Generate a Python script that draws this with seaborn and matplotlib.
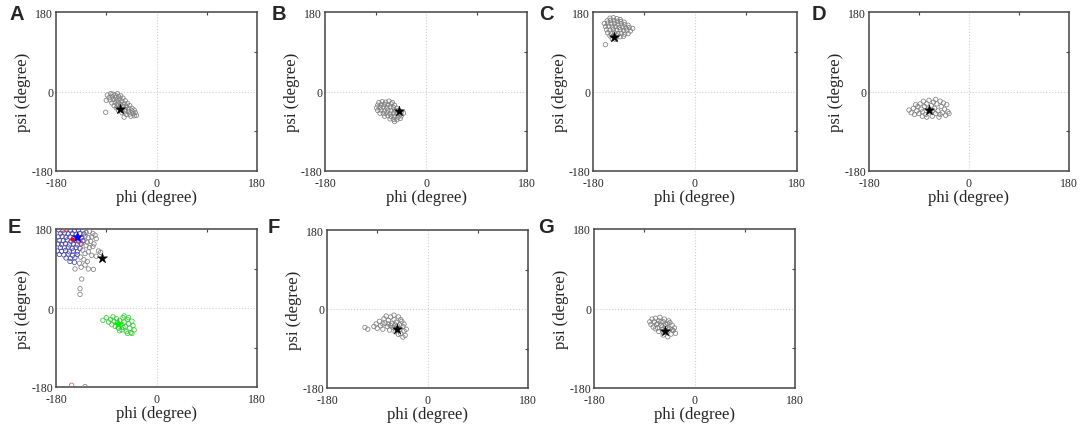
import matplotlib
matplotlib.use("Agg")
import matplotlib.pyplot as plt
import seaborn as sns

# (phi, psi) points, in degrees
A_POINTS = [(-88, -8), (-82, -5), (-78, -6), (-74, -8), (-70, -5), (-85, -14), (-79, -12), (-73, -13),
            (-68, -11), (-64, -10), (-90, -20), (-83, -19), (-77, -18), (-71, -20), (-66, -17), (-60, -15),
            (-80, -26), (-74, -25), (-68, -24), (-62, -22), (-56, -21), (-76, -32), (-70, -30), (-64, -29),
            (-58, -28), (-52, -27), (-72, -37), (-66, -36), (-60, -34), (-54, -33), (-48, -32), (-68, -43),
            (-62, -42), (-56, -40), (-50, -39), (-44, -38), (-62, -48), (-56, -46), (-50, -45), (-44, -44),
            (-40, -42), (-54, -52), (-48, -51), (-42, -50), (-38, -48), (-46, -56), (-40, -55), (-91, -47),
            (-58, -58), (-36, -54)]
A_STAR = (-65, -39)

B_POINTS = [(-84, -25), (-78, -23), (-72, -24), (-66, -22), (-60, -25), (-86, -31), (-80, -30), (-74, -29),
            (-68, -30), (-62, -28), (-56, -31), (-88, -37), (-82, -36), (-76, -35), (-70, -37), (-64, -35),
            (-58, -36), (-52, -38), (-86, -43), (-80, -42), (-74, -44), (-68, -42), (-62, -44), (-56, -42),
            (-50, -44), (-44, -46), (-82, -49), (-76, -50), (-70, -48), (-64, -51), (-58, -49), (-52, -51),
            (-46, -50), (-40, -49), (-74, -56), (-68, -55), (-62, -57), (-56, -56), (-50, -58), (-44, -55),
            (-64, -62), (-58, -63), (-52, -64), (-46, -61), (-56, -68)]
B_STAR = (-48, -45)

C_POINTS = [(-150, 166), (-144, 167), (-138, 165), (-132, 163), (-155, 160), (-149, 161), (-143, 160),
            (-137, 159), (-131, 158), (-125, 157), (-160, 154), (-154, 155), (-148, 153), (-142, 154),
            (-136, 152), (-130, 153), (-124, 151), (-118, 150), (-158, 147), (-152, 148), (-146, 146),
            (-140, 147), (-134, 145), (-128, 146), (-122, 144), (-116, 145), (-110, 143), (-156, 140),
            (-150, 139), (-144, 141), (-138, 139), (-132, 140), (-126, 138), (-120, 139), (-114, 137),
            (-154, 133), (-148, 132), (-142, 133), (-136, 131), (-130, 132), (-124, 130), (-118, 131),
            (-150, 126), (-144, 125), (-138, 126), (-132, 124), (-126, 125), (-146, 119), (-140, 118),
            (-158, 106)]
C_STAR = (-143, 124)

D_POINTS = [(-108, -42), (-104, -48), (-100, -38), (-98, -52), (-94, -44), (-92, -34), (-90, -50), (-88, -28),
            (-86, -40), (-84, -46), (-82, -22), (-80, -34), (-78, -52), (-76, -28), (-74, -40), (-72, -20),
            (-70, -46), (-68, -32), (-66, -56), (-64, -24), (-62, -38), (-60, -50), (-58, -28), (-56, -44),
            (-54, -58), (-52, -22), (-50, -34), (-48, -48), (-46, -26), (-44, -40), (-42, -54), (-40, -30),
            (-38, -46), (-36, -50), (-84, -56), (-96, -30), (-60, -18), (-66, -44), (-76, -58), (-52, -52)]
D_STAR = (-72, -43)

E_GREY = [(-132, 176), (-126, 172), (-120, 174), (-114, 170), (-110, 166), (-128, 164), (-122, 160),
          (-116, 162), (-108, 158), (-130, 154), (-124, 150), (-118, 152), (-112, 146), (-126, 142),
          (-120, 138), (-114, 140), (-104, 130), (-100, 127), (-132, 132), (-128, 124), (-122, 128),
          (-116, 120), (-108, 118), (-136, 116), (-130, 110), (-124, 106), (-138, 102), (-128, 98),
          (-146, 89), (-135, 93), (-122, 89), (-113, 88), (-134, 66), (-137, 44), (-137, 31), (-128, -179)]
E_BLUE = [(-175, 178), (-168, 176), (-161, 178), (-154, 177), (-147, 176), (-140, 178), (-172, 170),
          (-165, 171), (-158, 169), (-151, 170), (-144, 168), (-137, 170), (-130, 169), (-176, 162),
          (-169, 163), (-162, 161), (-155, 162), (-148, 160), (-141, 162), (-134, 160), (-174, 154),
          (-167, 153), (-160, 155), (-153, 152), (-146, 154), (-139, 152), (-132, 153), (-176, 146),
          (-170, 145), (-163, 147), (-156, 144), (-149, 146), (-142, 144), (-135, 146), (-172, 138),
          (-165, 137), (-158, 139), (-151, 136), (-144, 138), (-137, 136), (-178, 130), (-170, 129),
          (-163, 131), (-156, 128), (-149, 130), (-142, 128), (-174, 122), (-166, 121), (-158, 123),
          (-150, 120), (-142, 122), (-162, 114), (-154, 113), (-146, 115), (-155, 106), (-147, 104)]
E_RED = [(-168, 178), (-162, 180), (-140, 160), (-136, 148), (-152, -176)]
E_RED_DOT = (-152, 158)
E_GREEN = [(-96, -28), (-90, -22), (-86, -32), (-82, -26), (-80, -38), (-78, -20), (-76, -30), (-74, -42),
           (-72, -24), (-70, -34), (-68, -46), (-66, -28), (-64, -38), (-62, -50), (-60, -22), (-58, -32),
           (-56, -42), (-54, -54), (-52, -26), (-50, -36), (-48, -46), (-46, -56), (-44, -30), (-42, -40),
           (-40, -50), (-44, -58), (-52, -58), (-60, -44), (-66, -52), (-58, -18), (-50, -22)]
E_STAR_BLACK = (-97, 114)
E_STAR_BLUE = (-143, 161)
E_STAR_GREEN = (-69, -36)

F_POINTS = [(-112, -42), (-107, -46), (-96, -40), (-92, -34), (-90, -44), (-86, -28), (-84, -38), (-80, -46),
            (-78, -22), (-76, -32), (-74, -16), (-72, -40), (-70, -26), (-68, -48), (-66, -18), (-64, -34),
            (-62, -42), (-60, -24), (-58, -52), (-56, -30), (-54, -38), (-52, -18), (-50, -46), (-48, -56),
            (-46, -28), (-44, -40), (-42, -50), (-40, -60), (-44, -64), (-50, -36), (-56, -44), (-60, -14),
            (-66, -38), (-48, -24), (-42, -34), (-38, -46), (-52, -58), (-70, -34), (-80, -34), (-58, -36)]
F_STAR = (-54, -45)

G_POINTS = [(-80, -30), (-78, -36), (-76, -24), (-74, -42), (-72, -30), (-70, -22), (-68, -36), (-66, -44),
            (-64, -28), (-62, -20), (-60, -38), (-58, -48), (-56, -30), (-54, -24), (-52, -42), (-50, -54),
            (-48, -34), (-46, -28), (-44, -46), (-42, -58), (-40, -38), (-38, -50), (-36, -44), (-34, -56),
            (-64, -52), (-56, -60), (-48, -64), (-70, -46), (-60, -30), (-52, -36), (-44, -32), (-40, -48),
            (-58, -42), (-66, -34), (-48, -44), (-56, -54)]
G_STAR = (-53, -50)

PANEL_LABELS = ["A", "B", "C", "D", "E", "F", "G"]
TICKS = [-180, 0, 180]

W, H = 1084, 427
# axes boxes in pixels: left, top, right, bottom
BOXES = {
    "A": (56, 13, 257, 172), "B": (325, 13, 527, 172), "C": (593, 13, 797, 172), "D": (869, 13, 1069, 172),
    "E": (56, 230, 257, 388), "F": (327, 231, 528, 389), "G": (594, 230, 795, 389),
}
LETTER_POS = {"A": (9, 5), "B": (272, 5), "C": (539, 5), "D": (812, 5),
              "E": (8, 218), "F": (268, 218), "G": (538, 218)}

sns.set_style("white")
plt.rcParams["font.family"] = ["Liberation Serif", "DejaVu Serif"]
plt.rcParams["axes.unicode_minus"] = False

fig = plt.figure(figsize=(W / 100, H / 100), dpi=100)


def circles(ax, pts, color):
    sns.scatterplot(x=[p[0] for p in pts], y=[p[1] for p in pts], ax=ax, marker="o", s=10,
                    facecolor="none", edgecolor=color, linewidth=0.55, zorder=3)


def star(ax, pt, color):
    sns.scatterplot(x=[pt[0]], y=[pt[1]], ax=ax, marker="*", s=60, color=color,
                    edgecolor=color, linewidth=0.3, zorder=5)


def setup(ax):
    ax.set_xlim(-180, 180)
    ax.set_ylim(-180, 180)
    ax.axhline(0, color="#cfcfcf", linestyle=":", linewidth=0.8, zorder=1)
    ax.axvline(0, color="#cfcfcf", linestyle=":", linewidth=0.8, zorder=1)
    ax.set_xticks(TICKS)
    ax.set_yticks(TICKS)
    ax.set_xticks([-90, 90], minor=True)
    ax.set_yticks([-90, 90], minor=True)
    ax.tick_params(which="minor", direction="in", length=2.5, width=0.8, color="#444444",
                   top=True, right=True)
    ax.tick_params(which="major", length=0, labelsize=8.5)
    ax.tick_params(axis="x", which="major", pad=4)
    ax.tick_params(axis="y", which="major", pad=2)
    ax.set_xlabel("phi (degree)", fontsize=12, labelpad=0)
    ax.set_ylabel("psi (degree)", fontsize=12, labelpad=0)
    for sp in ax.spines.values():
        sp.set_color("#444444")
        sp.set_linewidth(1.1)


panels = {}
for name in PANEL_LABELS:
    l, t, r, b = BOXES[name]
    ax = fig.add_axes([l / W, 1 - b / H, (r - l) / W, (b - t) / H])
    setup(ax)
    panels[name] = ax
    lx, ly = LETTER_POS[name]
    fig.text(lx / W, 1 - ly / H, name, fontsize=14.5, fontweight="bold",
             family=["Liberation Sans", "DejaVu Sans"], va="top", ha="left")

grey = "#808080"
for name, pts, st in [("A", A_POINTS, A_STAR), ("B", B_POINTS, B_STAR), ("C", C_POINTS, C_STAR),
                      ("D", D_POINTS, D_STAR), ("F", F_POINTS, F_STAR), ("G", G_POINTS, G_STAR)]:
    circles(panels[name], pts, grey)
    star(panels[name], st, "black")

axE = panels["E"]
circles(axE, E_GREY, grey)
circles(axE, E_BLUE, "#4848aa")
circles(axE, E_RED, "#dd5555")
circles(axE, E_GREEN, "#33cc33")
sns.scatterplot(x=[E_RED_DOT[0]], y=[E_RED_DOT[1]], ax=axE, marker="o", s=10, color="red",
                linewidth=0, zorder=4)
star(axE, E_STAR_BLACK, "black")
star(axE, E_STAR_BLUE, "#0000ff")
star(axE, E_STAR_GREEN, "#00ee00")

for ax in panels.values():
    ax.set_xlim(-180, 180)
    ax.set_ylim(-180, 180)

fig.savefig("out.png", dpi=100)
